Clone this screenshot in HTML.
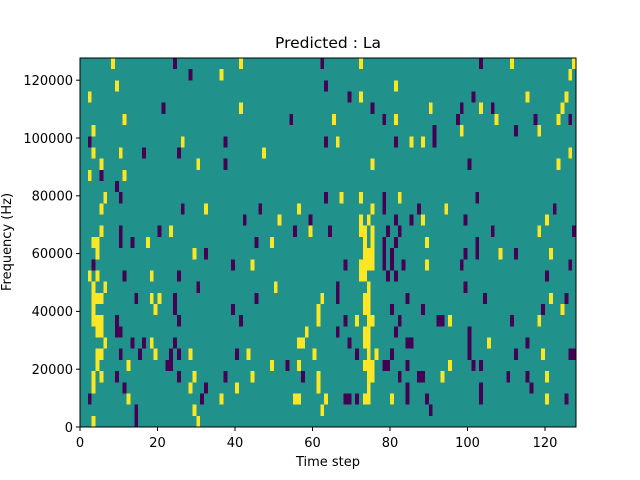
<!DOCTYPE html>
<html><head><meta charset="utf-8"><style>html,body{margin:0;padding:0;background:#fff}svg{display:block}</style></head>
<body>
<svg width="640" height="480" xmlns="http://www.w3.org/2000/svg" font-family="DejaVu Sans, Liberation Sans, sans-serif">
<rect width="640" height="480" fill="#fff"/>
<svg x="80" y="58" width="496" height="369" viewBox="0 0 128 33" preserveAspectRatio="none" shape-rendering="crispEdges">
<rect width="128" height="33" fill="#21918c"/>
<g fill="#fde725" id="Y"></g>
<g fill="#440154" id="P"></g>
</svg>
<g fill="none" stroke="#000" stroke-width="1">
<rect x="80" y="58" width="496" height="369"/>
</g>
<g stroke="#000" stroke-width="1">
<line x1="80" y1="427" x2="80" y2="431"/><line x1="157.5" y1="427" x2="157.5" y2="431"/><line x1="235" y1="427" x2="235" y2="431"/><line x1="312.5" y1="427" x2="312.5" y2="431"/><line x1="390" y1="427" x2="390" y2="431"/><line x1="467.5" y1="427" x2="467.5" y2="431"/><line x1="545" y1="427" x2="545" y2="431"/>
<line x1="76" y1="427" x2="80" y2="427"/><line x1="76" y1="369.2" x2="80" y2="369.2"/><line x1="76" y1="311.4" x2="80" y2="311.4"/><line x1="76" y1="253.6" x2="80" y2="253.6"/><line x1="76" y1="195.8" x2="80" y2="195.8"/><line x1="76" y1="138" x2="80" y2="138"/><line x1="76" y1="80.2" x2="80" y2="80.2"/>
</g>
<g font-size="13" text-anchor="middle" fill="#000">
<text x="80" y="447">0</text><text x="157.5" y="447">20</text><text x="235" y="447">40</text><text x="312.5" y="447">60</text><text x="390" y="447">80</text><text x="467.5" y="447">100</text><text x="545" y="447">120</text>
</g>
<g font-size="13" text-anchor="end" fill="#000">
<text x="73" y="432">0</text><text x="73" y="374">20000</text><text x="73" y="316">40000</text><text x="73" y="258">60000</text><text x="73" y="200.5">80000</text><text x="73" y="143">100000</text><text x="73" y="85">120000</text>
</g>
<text x="328" y="466" font-size="13" text-anchor="middle">Time step</text>
<text x="328" y="48" font-size="15.5" text-anchor="middle">Predicted : La</text>
<text transform="translate(11,242) rotate(-90)" font-size="13" text-anchor="middle">Frequency (Hz)</text>
</svg>
<script>
var Y="8,0;9,2;2,3;11,5;3,6;26,7;3,8;10,8;5,9;30,9;2,10;11,10;6,12;5,13;5,15;23,15;3,16,2;17,16;4,17;29,17;2,19;4,19;18,19;3,20;6,20;3,21,3;18,21;20,21;3,22;19,22;3,23,3;4,24,2;6,25;18,25;4,26,2;19,26;28,26;4,27;12,27;3,28;5,28;29,28;3,29;28,29;12,30;29,31;3,32;30,32;41,0;36,1;41,4;47,8;32,13;56,13;51,14;59,15;49,16;44,18;50,20;62,21;61,22,1,2;58,24;56,25,2;43,26;60,26;49,27;56,27;44,28;61,28;40,29;61,29;36,30;55,30,2;63,30;62,31;72,0;81,2;72,3;90,4;65,5;81,5;66,7;85,7;88,7;75,9;67,12;72,12;82,12;75,13;94,13;72,14;74,14;88,14;72,15,2;75,15;73,16;75,16;89,16;73,17,3;72,18,4;89,18;72,19,2;74,20;73,21,2;73,22,2;71,23;74,23,2;95,23;73,24,2;73,25,2;74,26;76,26;73,27,3;95,27;74,28,2;93,28;74,29;73,30,2;80,30;111,0;127,0;126,1;115,3;125,3;103,4;124,4;107,5;123,5;98,6;118,6;126,8;123,9;120,14;118,15;108,17;121,17;121,21;124,22;118,23;105,25;119,26;120,28;120,30";
var P="24,0;28,1;21,4;2,7;16,8;25,8;5,10;9,11;10,12;26,13;10,15;20,15;10,16;13,16;3,18;11,19;25,19;30,20;14,21;24,21,1,2;9,23;25,23;9,24,2;13,25;16,25;24,25;10,26;15,26;23,26;25,26;22,27,2;9,28;25,28;11,29;2,30;31,30;14,31,1,2;62,0;63,2;54,5;37,7;63,7;37,9;63,12;46,13;42,14;59,14;55,15;45,16;32,17;39,18;45,21;39,22;41,23;40,26;53,27;37,28;57,28;32,29;69,3;75,4;78,5;91,6,1,2;81,7;78,12,1,2;87,13;81,14;85,14;64,15;79,15;82,15;78,16,1,3;81,16;80,17,1,2;68,18;83,18;79,19;81,19;66,20,1,2;84,21;80,22;88,22;68,23;82,23;92,23,2;66,24;81,24;69,25;84,25,2;71,26;80,26;78,27,2;84,27;82,28;87,28,2;84,29;68,30,2;71,30;84,30;89,30;90,31;103,0;101,3;98,4;106,4;97,5;117,5;126,5;112,6;100,9;102,12;122,13;99,14;106,15;127,15;102,16,1,2;99,17;112,17;98,18;126,18;120,19;99,20;104,21;125,21;119,22;111,23;100,24,1,3;115,25;112,26;126,26,2;101,27;103,27;110,28;115,28;103,29,1,2;116,29;125,30";
function f(s,id){var g=document.getElementById(id),h="";s.split(";").forEach(function(t){var a=t.split(",");h+='<rect x="'+a[0]+'" y="'+a[1]+'" width="'+(a[2]||1)+'" height="'+(a[3]||1)+'"/>';});g.innerHTML=h;}
f(Y,"Y");f(P,"P");
</script>
</body></html>
